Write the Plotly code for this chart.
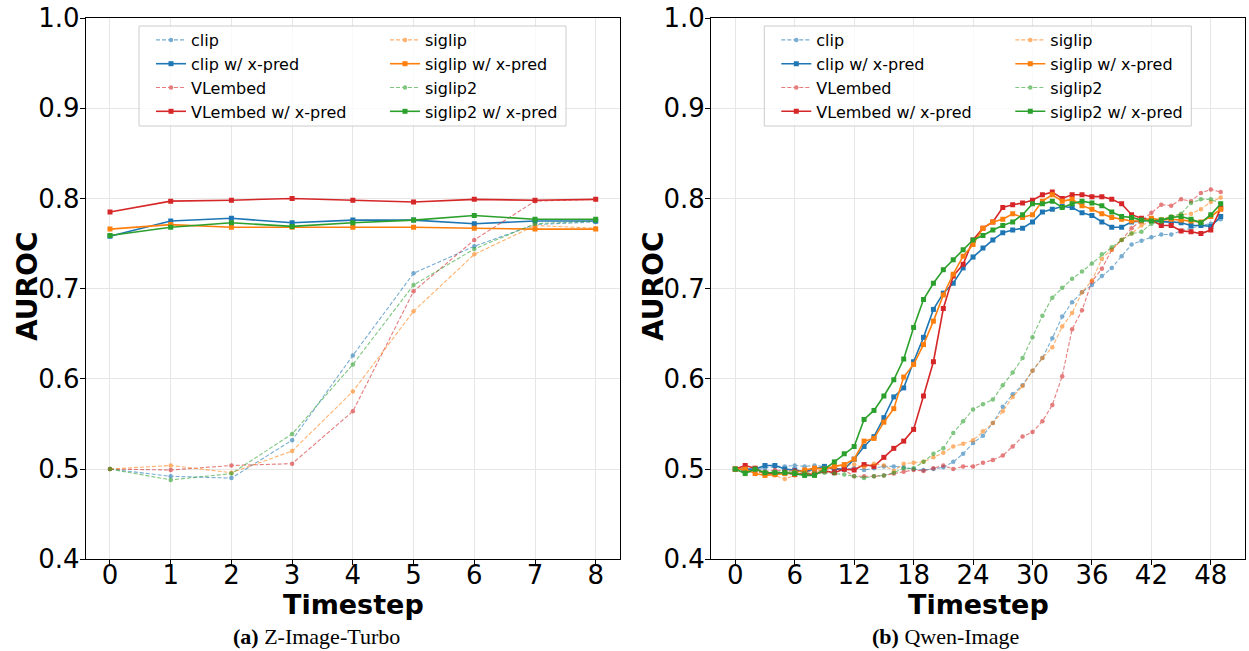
import plotly.graph_objects as go

# ---------------- data ----------------
t_a = list(range(9))
clip_a      = [0.500, 0.492, 0.490, 0.532, 0.626, 0.717, 0.747, 0.771, 0.774]
clip_x_a    = [0.758, 0.775, 0.778, 0.773, 0.776, 0.776, 0.772, 0.775, 0.775]
vl_a        = [0.500, 0.499, 0.504, 0.506, 0.564, 0.697, 0.754, 0.797, 0.799]
vl_x_a      = [0.785, 0.797, 0.798, 0.800, 0.798, 0.796, 0.799, 0.798, 0.799]
siglip_a    = [0.500, 0.504, 0.496, 0.520, 0.586, 0.675, 0.738, 0.770, 0.767]
siglip_x_a  = [0.766, 0.771, 0.768, 0.768, 0.768, 0.768, 0.767, 0.766, 0.766]
siglip2_a   = [0.500, 0.488, 0.495, 0.539, 0.616, 0.704, 0.744, 0.772, 0.775]
siglip2_x_a = [0.759, 0.768, 0.773, 0.769, 0.773, 0.776, 0.781, 0.777, 0.777]

t_b = list(range(50))
clip_b = [0.500, 0.497, 0.499, 0.501, 0.503, 0.503, 0.504, 0.503, 0.504, 0.503,
          0.501, 0.500, 0.501, 0.499, 0.501, 0.503, 0.503, 0.502, 0.500, 0.499,
          0.500, 0.502, 0.508, 0.517, 0.529, 0.537, 0.551, 0.569, 0.583, 0.593,
          0.609, 0.623, 0.645, 0.669, 0.685, 0.696, 0.704, 0.714, 0.723, 0.736,
          0.749, 0.753, 0.757, 0.760, 0.760, 0.764, 0.767, 0.770, 0.772, 0.777]
clip_x_b = [0.500, 0.500, 0.500, 0.504, 0.504, 0.500, 0.499, 0.497, 0.500, 0.503,
            0.500, 0.500, 0.511, 0.525, 0.536, 0.557, 0.580, 0.590, 0.619, 0.646,
            0.677, 0.695, 0.706, 0.723, 0.735, 0.745, 0.754, 0.762, 0.765, 0.767,
            0.774, 0.785, 0.788, 0.791, 0.790, 0.784, 0.781, 0.774, 0.768, 0.768,
            0.774, 0.775, 0.776, 0.774, 0.774, 0.773, 0.770, 0.770, 0.769, 0.780]
vl_b = [0.500, 0.498, 0.496, 0.497, 0.499, 0.498, 0.499, 0.498, 0.497, 0.499,
        0.501, 0.499, 0.492, 0.492, 0.492, 0.493, 0.495, 0.497, 0.499, 0.498,
        0.501, 0.504, 0.500, 0.503, 0.503, 0.507, 0.510, 0.515, 0.525, 0.536,
        0.541, 0.553, 0.571, 0.603, 0.655, 0.676, 0.708, 0.722, 0.743, 0.754,
        0.767, 0.775, 0.784, 0.793, 0.792, 0.799, 0.797, 0.806, 0.810, 0.807]
vl_x_b = [0.500, 0.504, 0.501, 0.495, 0.495, 0.496, 0.494, 0.495, 0.494, 0.498,
          0.496, 0.500, 0.499, 0.505, 0.503, 0.513, 0.523, 0.531, 0.544, 0.581,
          0.619, 0.678, 0.714, 0.727, 0.754, 0.767, 0.774, 0.790, 0.793, 0.795,
          0.798, 0.804, 0.807, 0.800, 0.804, 0.804, 0.802, 0.802, 0.799, 0.794,
          0.782, 0.778, 0.776, 0.770, 0.770, 0.764, 0.763, 0.761, 0.765, 0.789]
siglip_b = [0.500, 0.499, 0.497, 0.495, 0.493, 0.489, 0.493, 0.495, 0.497, 0.499,
            0.502, 0.504, 0.505, 0.502, 0.506, 0.504, 0.498, 0.506, 0.507, 0.508,
            0.513, 0.518, 0.525, 0.528, 0.532, 0.542, 0.551, 0.564, 0.580, 0.592,
            0.609, 0.623, 0.635, 0.658, 0.673, 0.696, 0.709, 0.733, 0.743, 0.754,
            0.761, 0.770, 0.775, 0.777, 0.780, 0.782, 0.783, 0.788, 0.796, 0.801]
siglip_x_b = [0.500, 0.500, 0.495, 0.493, 0.494, 0.495, 0.496, 0.499, 0.501, 0.500,
              0.503, 0.505, 0.511, 0.531, 0.534, 0.552, 0.567, 0.602, 0.616, 0.638,
              0.664, 0.693, 0.716, 0.736, 0.749, 0.767, 0.774, 0.777, 0.783, 0.779,
              0.782, 0.797, 0.804, 0.797, 0.799, 0.792, 0.788, 0.783, 0.779, 0.777,
              0.775, 0.775, 0.778, 0.776, 0.777, 0.776, 0.775, 0.774, 0.780, 0.788]
siglip2_b = [0.500, 0.497, 0.499, 0.496, 0.497, 0.497, 0.497, 0.496, 0.495, 0.496,
             0.495, 0.494, 0.492, 0.490, 0.492, 0.493, 0.496, 0.501, 0.501, 0.508,
             0.517, 0.523, 0.540, 0.553, 0.566, 0.572, 0.577, 0.593, 0.607, 0.623,
             0.646, 0.670, 0.690, 0.701, 0.711, 0.719, 0.728, 0.738, 0.746, 0.754,
             0.761, 0.763, 0.772, 0.774, 0.780, 0.783, 0.795, 0.799, 0.799, 0.794]
siglip2_x_b = [0.500, 0.495, 0.500, 0.496, 0.496, 0.496, 0.495, 0.493, 0.493, 0.500,
               0.508, 0.517, 0.525, 0.555, 0.565, 0.581, 0.599, 0.622, 0.657, 0.688,
               0.706, 0.721, 0.732, 0.743, 0.754, 0.759, 0.765, 0.770, 0.774, 0.782,
               0.794, 0.794, 0.797, 0.790, 0.794, 0.797, 0.795, 0.792, 0.785, 0.780,
               0.779, 0.776, 0.775, 0.776, 0.779, 0.780, 0.777, 0.773, 0.782, 0.794]

names = ["clip", "clip w/ x-pred", "VLembed", "VLembed w/ x-pred",
         "siglip", "siglip w/ x-pred", "siglip2", "siglip2 w/ x-pred"]
colors = {"clip": "#1f77b4", "VLembed": "#d62728", "siglip": "#ff7f0e", "siglip2": "#2ca02c"}
y_ticks = [0.4, 0.5, 0.6, 0.7, 0.8, 0.9, 1.0]
x_ticks_a = list(range(9))
x_ticks_b = list(range(0, 49, 6))

series_a = [clip_a, clip_x_a, vl_a, vl_x_a, siglip_a, siglip_x_a, siglip2_a, siglip2_x_a]
series_b = [clip_b, clip_x_b, vl_b, vl_x_b, siglip_b, siglip_x_b, siglip2_b, siglip2_x_b]

W, H = 1249, 651
FONT = "DejaVu Sans"

fig = go.Figure()


def add_series(t, series, xa, ya, leg1, leg2):
    for i, (nm, ys) in enumerate(zip(names, series)):
        base = nm.split(" ")[0]
        col = colors[base]
        xpred = "x-pred" in nm
        legend = leg1 if i < 4 else leg2
        if xpred:
            fig.add_trace(go.Scatter(
                x=t, y=ys, name=nm, mode="lines+markers", xaxis=xa, yaxis=ya,
                line=dict(color=col, width=1.6),
                marker=dict(symbol="square", size=5, color=col),
                legend=legend))
        else:
            fig.add_trace(go.Scatter(
                x=t, y=ys, name=nm, mode="lines+markers", xaxis=xa, yaxis=ya,
                line=dict(color=col, width=1.1, dash="4px,2px"),
                marker=dict(symbol="circle", size=4.5, color=col),
                opacity=0.6, legend=legend))


add_series(t_a, series_a, "x", "y", "legend", "legend2")
add_series(t_b, series_b, "x2", "y2", "legend3", "legend4")


def px(x):
    return x / W


def py(y):
    return 1 - y / H


L1, R1 = 85.7, 620.0
L2, R2 = 711.0, 1245.0
TOP, BOT = 18.0, 559.3

axis_common = dict(showline=True, mirror=True, linecolor="black", linewidth=1,
                   ticks="outside", ticklen=5, tickwidth=1, tickcolor="black",
                   gridcolor="#e6e6e6", gridwidth=1, zeroline=False, automargin=False,
                   tickfont=dict(family=FONT, size=26, color="black"))

fig.update_layout(
    width=W, height=H, margin=dict(l=0, r=0, t=0, b=0, autoexpand=False),
    paper_bgcolor="white", plot_bgcolor="white",
    showlegend=True,
    xaxis=dict(domain=[px(L1), px(R1)], range=[-0.4, 8.4], tickvals=x_ticks_a,
               anchor="y", ticklabelstandoff=-13, **axis_common),
    yaxis=dict(domain=[py(BOT), py(TOP)], range=[0.4, 1.0], tickvals=y_ticks,
               tickformat=".1f", anchor="x", ticklabelstandoff=-5, **axis_common),
    xaxis2=dict(domain=[px(L2), px(R2)], range=[-2.45, 51.45], tickvals=x_ticks_b,
                anchor="y2", ticklabelstandoff=-13, **axis_common),
    yaxis2=dict(domain=[py(BOT), py(TOP)], range=[0.4, 1.0], tickvals=y_ticks,
                tickformat=".1f", anchor="x2", ticklabelstandoff=-5, **axis_common),
)

leg_common = dict(font=dict(family=FONT, size=16, color="black"),
                  bgcolor="rgba(0,0,0,0)", borderwidth=0,
                  xanchor="left", yanchor="top", orientation="v",
                  itemwidth=30, tracegroupgap=0)
LEG_TOP = 23
DX = L2 - L1
fig.update_layout(
    legend=dict(x=px(151), y=py(LEG_TOP), **leg_common),
    legend2=dict(x=px(385), y=py(LEG_TOP), **leg_common),
    legend3=dict(x=px(151 + DX), y=py(LEG_TOP), **leg_common),
    legend4=dict(x=px(385 + DX), y=py(LEG_TOP), **leg_common),
)

# legend frames
for off in (0, DX):
    fig.add_shape(type="rect", xref="paper", yref="paper",
                  x0=px(139 + off), x1=px(566 + off), y0=py(126), y1=py(26),
                  line=dict(color="#cccccc", width=1),
                  fillcolor="rgba(255,255,255,0.8)", layer="above")

ann = []
for cx in (353, 978):
    ann.append(dict(x=px(cx), y=py(604), text="<b>Timestep</b>", showarrow=False,
                    xref="paper", yref="paper", xanchor="center", yanchor="middle",
                    font=dict(family=FONT, size=27, color="black")))
for cx in (27, 653):
    ann.append(dict(x=px(cx), y=py(287), text="<b>AUROC</b>", showarrow=False, textangle=-90,
                    xref="paper", yref="paper", xanchor="center", yanchor="middle",
                    font=dict(family=FONT, size=28, color="black")))
ann.append(dict(x=px(317), y=py(636), text="<b>(a)</b> Z-Image-Turbo", showarrow=False,
                xref="paper", yref="paper", xanchor="center", yanchor="middle",
                font=dict(family="Liberation Serif", size=22, color="black")))
ann.append(dict(x=px(945), y=py(636), text="<b>(b)</b> Qwen-Image", showarrow=False,
                xref="paper", yref="paper", xanchor="center", yanchor="middle",
                font=dict(family="Liberation Serif", size=22, color="black")))
fig.update_layout(annotations=ann)

fig.write_html("out.html", config={"displayModeBar": False},
               post_script="document.body.style.margin='0';document.body.style.overflow='hidden';")
